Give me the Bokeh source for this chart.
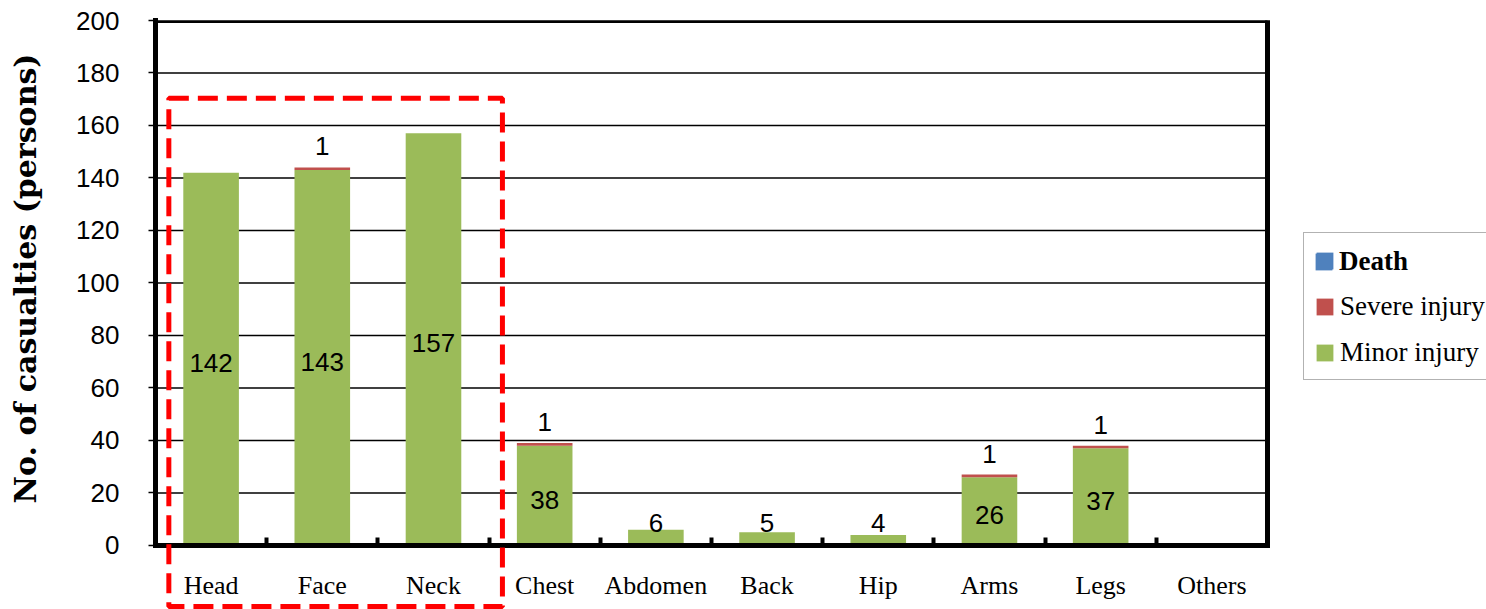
from bokeh.plotting import figure
from bokeh.models import (Range1d, LinearAxis, FixedTicker, Legend,
                          LegendItem, ColumnDataSource, BoxAnnotation)
from bokeh.embed import file_html
from bokeh.resources import INLINE
from bokeh.core.properties import value

categories = ["Head", "Face", "Neck", "Chest", "Abdomen", "Back", "Hip", "Arms", "Legs", "Others"]
death = [0, 0, 0, 0, 0, 0, 0, 0, 0, 0]
severe = [0, 1, 0, 1, 0, 0, 0, 1, 1, 0]
minor = [142, 143, 157, 38, 6, 5, 4, 26, 37, 0]
y_ticks = [0, 20, 40, 60, 80, 100, 120, 140, 160, 180, 200]
highlighted = ["Head", "Face", "Neck"]

colors = {"death": "#4F81BD", "severe": "#C0504D", "minor": "#9BBB59"}

N = len(categories)
xpos = [i + 0.5 for i in range(N)]          # category centres on the axis scale
src = ColumnDataSource(dict(x=xpos, cat=categories, death=death, severe=severe, minor=minor))

Y_MAX = 200
Y_LOW = -24.4    # frame continues below the x axis (labels and box live there)
X_END = 11.97    # frame continues right of the last category (legend lives there)

p = figure(width=1486, height=609,
           x_range=Range1d(0, X_END), y_range=Range1d(Y_LOW, Y_MAX),
           x_axis_type=None,
           output_backend="svg", toolbar_location=None,
           min_border_left=155, min_border_top=20, min_border_right=0, min_border_bottom=0,
           background_fill_color="white", border_fill_color="white")
p.outline_line_color = None
p.xgrid.visible = False
p.ygrid.visible = False

# horizontal gridlines limited to the plot box (drawn first, beneath the bars)
p.segment(x0=[0] * len(y_ticks), x1=[N] * len(y_ticks), y0=y_ticks, y1=y_ticks,
          line_color="black", line_width=1.5)

rs = p.vbar_stack(["minor", "severe", "death"], x="x", width=0.5, source=src,
                  color=[colors["minor"], colors["severe"], colors["death"]],
                  line_color=None)
r_minor, r_severe, r_death = rs

# left y axis
yax = p.yaxis[0]
yax.bounds = (0, Y_MAX)
yax.ticker = FixedTicker(ticks=y_ticks, minor_ticks=[])
yax.axis_line_color = "black"
yax.axis_line_width = 5
yax.axis_line_cap = "square"
yax.major_tick_in = 0
yax.major_tick_out = 7
yax.major_tick_line_width = 1.5
yax.major_tick_line_color = "black"
yax.major_label_text_font = "Liberation Sans"
yax.major_label_text_font_size = "26px"
yax.major_label_text_color = "black"
yax.major_label_standoff = 29
yax.axis_label = "\u00a0" * 7 + "No. of casualties (persons)"
yax.axis_label_text_font = "DejaVu Serif"
yax.axis_label_text_font_style = "bold"
yax.axis_label_text_font_size = "30px"
yax.axis_label_text_color = "black"
yax.axis_label_standoff = 30

# x axis at y = 0: labels at category centres, ticks at category boundaries
bounds = [float(i) for i in range(1, N)]
xax = LinearAxis(ticker=FixedTicker(ticks=xpos, minor_ticks=bounds),
                 major_label_overrides={c: n for c, n in zip(xpos, categories)},
                 fixed_location=0, bounds=(0, N))
xax.axis_line_color = "black"
xax.axis_line_width = 5
xax.axis_line_cap = "square"
xax.major_tick_in = 0
xax.major_tick_out = 0
xax.minor_tick_in = 8
xax.minor_tick_out = 0
xax.minor_tick_line_width = 4
xax.minor_tick_line_color = "black"
xax.major_label_text_font = "Liberation Serif"
xax.major_label_text_font_size = "26px"
xax.major_label_text_color = "black"
xax.major_label_standoff = 26
p.add_layout(xax, "below")

# top and right frame borders
def border_axis(**kw):
    return LinearAxis(ticker=FixedTicker(ticks=[], minor_ticks=[]),
                      major_tick_out=0, major_tick_in=0, minor_tick_out=0, minor_tick_in=0,
                      axis_line_width=5, axis_line_color="black", axis_line_cap="square",
                      major_label_text_font_size="0px", **kw)

p.add_layout(border_axis(fixed_location=Y_MAX, bounds=(0, N)), "above")
p.add_layout(border_axis(fixed_location=N, bounds=(0, Y_MAX)), "right")

# data labels
mi = [i for i, v in enumerate(minor) if v > 0]
lab_minor = ColumnDataSource(dict(
    x=[xpos[i] for i in mi],
    y=[max(minor[i] / 2, 10) for i in mi],
    t=[str(minor[i]) for i in mi]))
p.text(x="x", y="y", text="t", source=lab_minor, text_align="center",
       text_baseline="middle", y_offset=4, text_font=value("Liberation Sans"),
       text_font_size="26px", text_color="black")

si = [i for i, v in enumerate(severe) if v > 0]
lab_sev = ColumnDataSource(dict(
    x=[xpos[i] for i in si],
    y=[minor[i] + severe[i] for i in si],
    t=[str(severe[i]) for i in si]))
p.text(x="x", y="y", text="t", source=lab_sev, text_align="center",
       text_baseline="middle", y_offset=-21, text_font=value("Liberation Sans"),
       text_font_size="26px", text_color="black")

# highlight box around Head / Face / Neck
box = BoxAnnotation(left=0.12, right=len(highlighted) + 0.12, top=170.4, bottom=-23.3,
                    fill_alpha=0, fill_color=None, line_color="#FF0000", line_alpha=1,
                    line_width=5, line_dash="20 9")
p.add_layout(box)

# legend: main box (Severe / Minor), with the bold "Death" row overlaid on its first row
LEG_PAD, LEG_LH, LEG_SP = 10, 34, 12
LEG_X, LEG_Y = 1148, 229
main_h = 2 * LEG_PAD + 3 * LEG_LH + 2 * LEG_SP


def style_legend(lg):
    lg.label_text_font = "Liberation Serif"
    lg.label_text_font_size = "27px"
    lg.label_text_color = "black"
    lg.glyph_width = 21
    lg.glyph_height = 21
    lg.label_height = LEG_LH
    lg.spacing = LEG_SP
    lg.padding = LEG_PAD
    lg.margin = 0
    lg.label_standoff = 5


legend = Legend(items=[LegendItem(label="\u00a0", renderers=[r_death]),
                       LegendItem(label="Severe injury", renderers=[r_severe]),
                       LegendItem(label="Minor injury", renderers=[r_minor])],
                location=(LEG_X, LEG_Y))
style_legend(legend)
legend.border_line_color = "#666666"
legend.border_line_width = 1.2
legend.background_fill_color = "white"
legend.background_fill_alpha = 1
p.add_layout(legend)

# borderless legend: its padding collapses to 0, so place it at the padded origin
legend_d = Legend(items=[LegendItem(label="Death", renderers=[r_death])],
                  location=(LEG_X + LEG_PAD, LEG_Y + main_h - LEG_PAD - LEG_LH))
style_legend(legend_d)
legend_d.label_text_font_style = "bold"
legend_d.border_line_color = None
legend_d.background_fill_alpha = 0
p.add_layout(legend_d)

open("out.html", "w").write(file_html(p, INLINE))
